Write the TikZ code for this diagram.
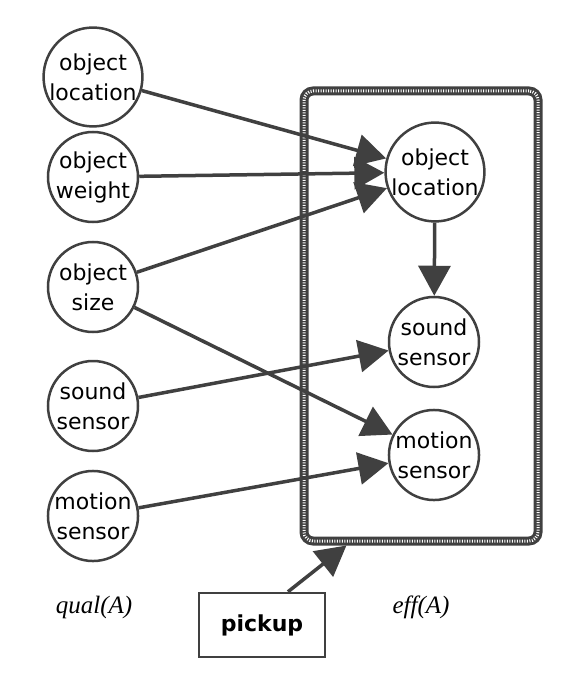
\documentclass[tikz,border=0pt]{standalone}
\usepackage{fontspec}
\setmainfont{Liberation Serif}
\setsansfont{DejaVu Sans}
\usetikzlibrary{arrows.meta}

\begin{document}
\begin{tikzpicture}[x=1pt,y=-1pt,line width=2.5pt,
    var/.style={draw=black!75,circle,minimum size=90pt,inner sep=0pt,align=center,
      font=\sffamily\fontsize{22}{30}\selectfont},
    dep/.style={-{Triangle[length=30pt,width=32pt]},line width=3.5pt,draw=black!75},
    plate/.style={draw=black!75,line width=9pt,rounded corners=9pt,
      postaction={draw=white,line width=3pt,dash pattern=on 1pt off 1.5pt}},
    lbl/.style={font=\itshape\fontsize{25}{25}\selectfont}]

    \useasboundingbox (0,0) rectangle (578,692);

    % effect plate
    \node [plate,minimum width=234pt,minimum height=450pt] (plate) at (421,316) {};

    % qualifications
    \node [var] (qloc)   at (93,77)  {object\\location};
    \node [var] (qwgt)   at (93,177) {object\\weight};
    \node [var] (qsize)  at (93,287) {object\\size};
    \node [var] (qsound) at (93,406) {sound\\sensor};
    \node [var] (qmot)   at (93,516) {motion\\sensor};

    % effects
    \node [var] (eloc)   at (435,172) {object\\location};
    \node [var] (esound) at (434,342) {sound\\sensor};
    \node [var] (emot)   at (434,455) {motion\\sensor};

    \node [draw=black!75,minimum width=126pt,minimum height=64pt,inner sep=0pt,
      font=\sffamily\bfseries\fontsize{22}{22}\selectfont] (pickup) at (262,625) {pickup};

    \node [lbl] (qual) at (94,607) {qual(A)};
    \node [lbl] (eff)  at (421,607) {eff(A)};

    \draw[dep] (qloc) -- (eloc);
    \draw[dep] (qwgt) -- (eloc);
    \draw[dep] (qsize) -- (eloc);
    \draw[dep] (qsize) -- (emot);
    \draw[dep] (qsound) -- (esound);
    \draw[dep] (qmot) -- (emot);
    \draw[dep] (eloc) -- (esound);
    \draw[dep] (pickup.52) -- (plate.252);

\end{tikzpicture}
\end{document}
